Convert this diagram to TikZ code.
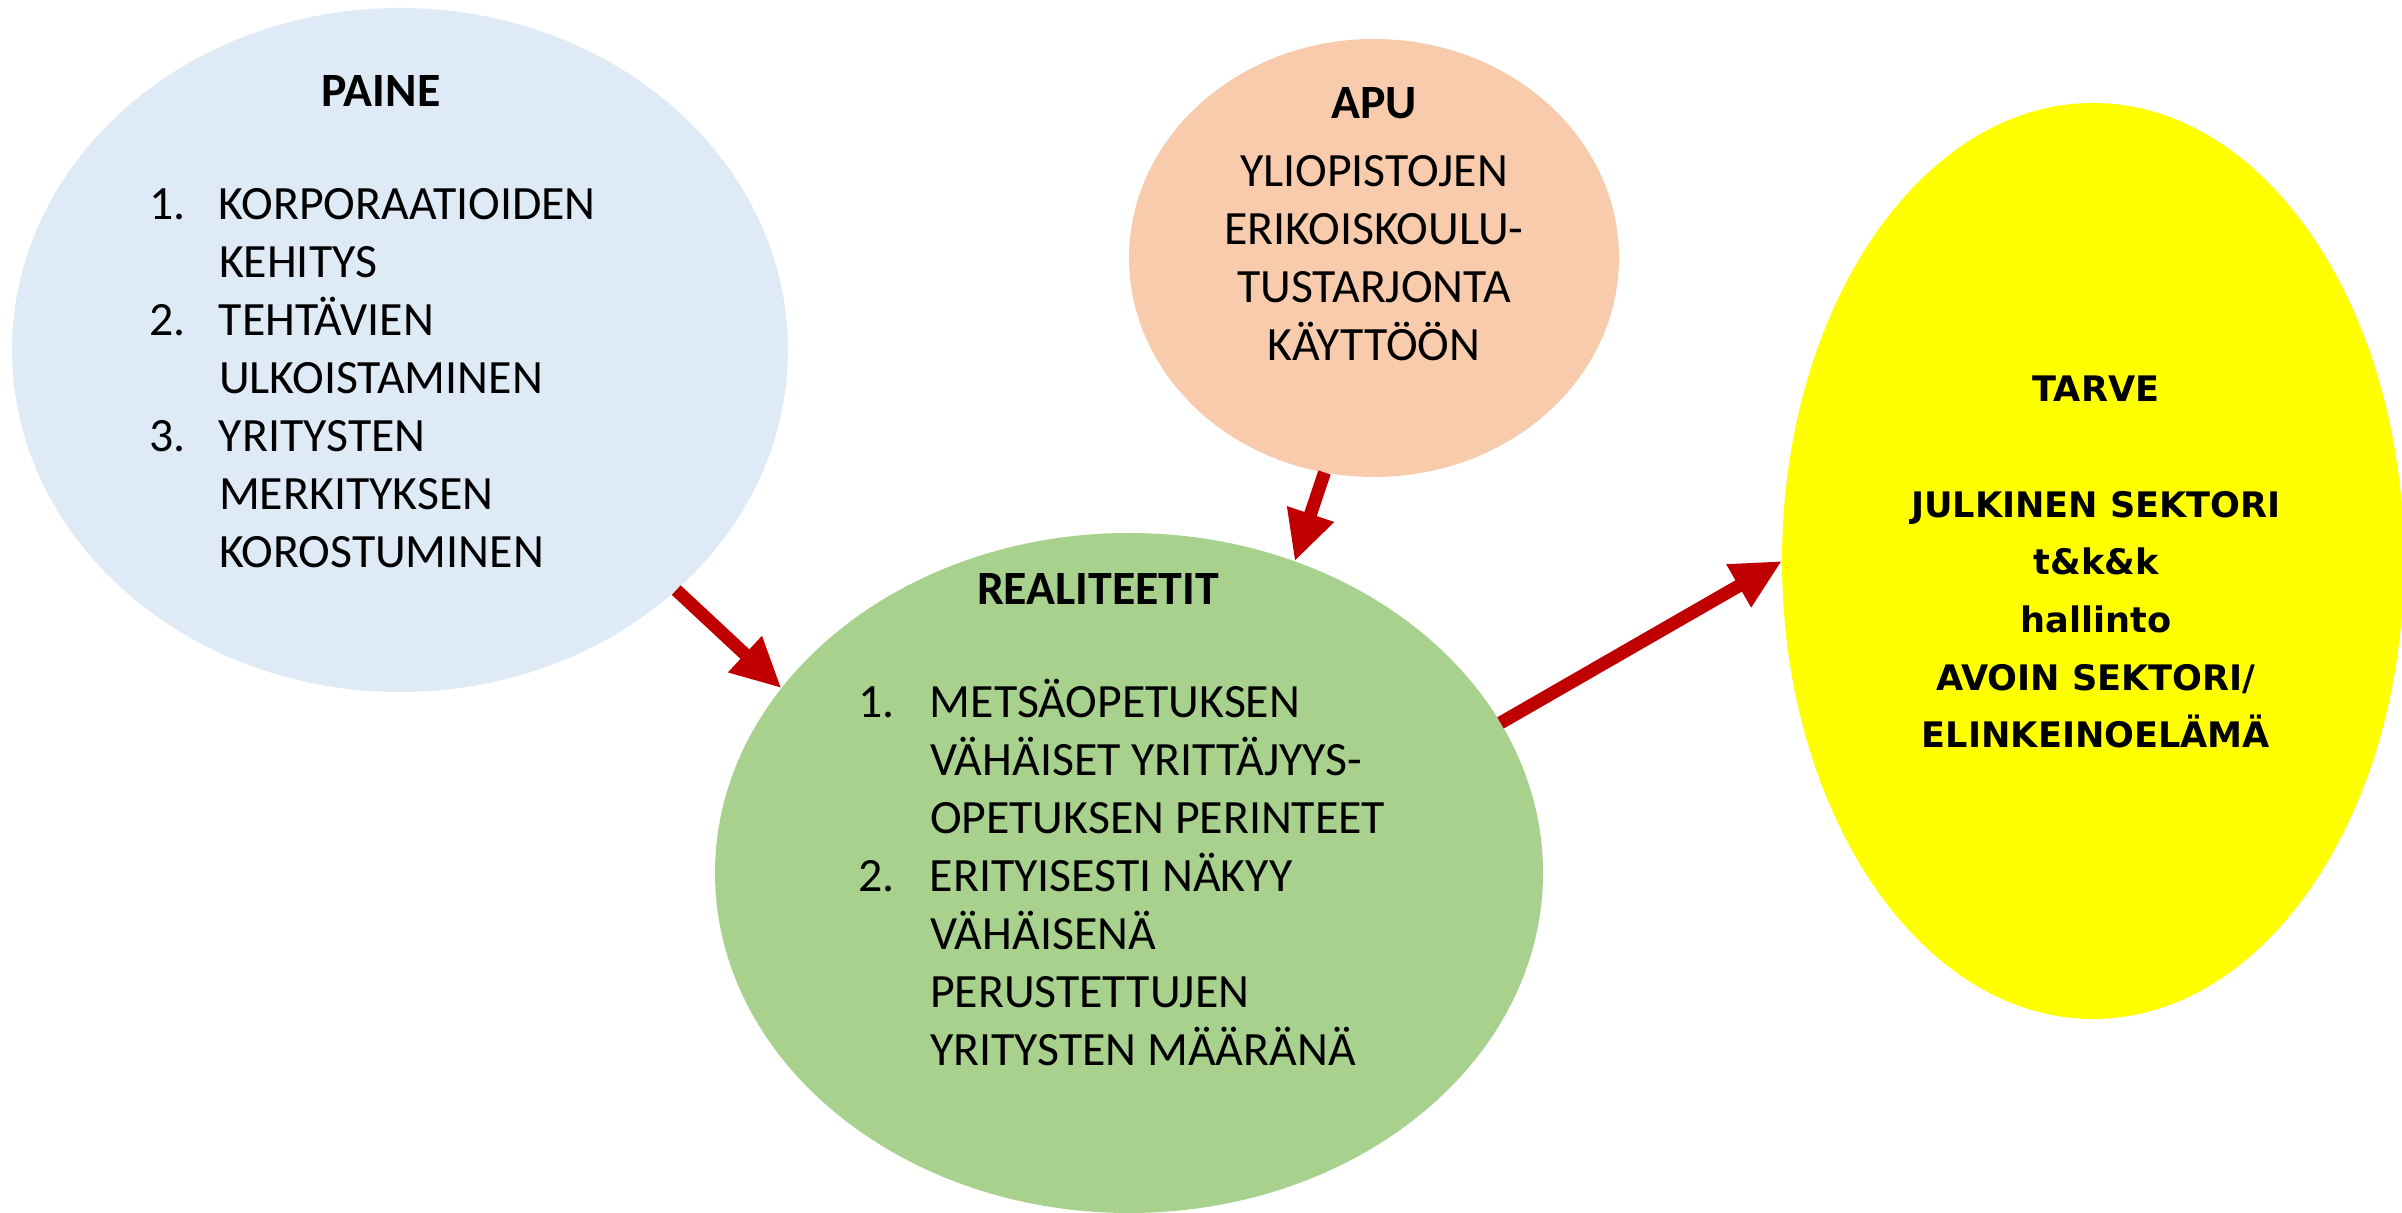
\documentclass[tikz,border=0pt]{standalone}
\usepackage{fontspec}
\setmainfont{Carlito}
\newfontfamily\tarvefont{DejaVu Sans}
\usetikzlibrary{shapes.geometric,arrows.meta}

\definecolor{painefill}{HTML}{DEEBF7}
\definecolor{apufill}{HTML}{F8CBAD}
\definecolor{realfill}{HTML}{A9D18E}
\definecolor{tarvefill}{HTML}{FFFF00}
\definecolor{flowred}{HTML}{C00000}

\begin{document}
\begin{tikzpicture}
      [every node/.style={inner sep=0pt,outer sep=0pt},
       blob/.style={ellipse,draw=none},
       body/.style={font=\fontsize{13.6}{16.5}\selectfont},
       head/.style={anchor=base,font=\bfseries\fontsize{13.6}{16.5}\selectfont},
       flow/.style={draw=flowred,line width=0.13cm,-{Triangle[length=0.5cm,width=0.46cm]}}]
      \useasboundingbox (0,0) rectangle (24.02,12.13);

      \node [blob,fill=painefill,minimum width=7.76cm,minimum height=6.84cm] (paine) at (4.00,8.63) {};
      \node [blob,fill=apufill,minimum width=4.90cm,minimum height=4.38cm] (apu) at (13.74,9.55) {};
      \node [blob,fill=realfill,minimum width=8.28cm,minimum height=6.80cm] (real) at (11.29,3.40) {};
      \node [blob,fill=tarvefill,minimum width=6.22cm,minimum height=9.16cm] (tarve) at (20.93,6.52) {};

      \node [head] (painehead) at (3.81,11.06) {PAINE};
      \node [body,anchor=base west] (painelist) at (1.49,9.93)
        {\begin{tabular}[t]{@{}p{0.70cm}@{}l@{}}
          1. & KORPORAATIOIDEN\\
             & KEHITYS\\
          2. & TEHTÄVIEN\\
             & ULKOISTAMINEN\\
          3. & YRITYSTEN\\
             & MERKITYKSEN\\
             & KOROSTUMINEN
        \end{tabular}};

      \node [head] (apuhead) at (13.74,10.94) {APU};
      \node [body,anchor=base] (aputext) at (13.74,10.26)
        {\begin{tabular}[t]{@{}c@{}}
          YLIOPISTOJEN\\
          ERIKOISKOULU-\\
          TUSTARJONTA\\
          KÄYTTÖÖN
        \end{tabular}};

      \node [head] (realhead) at (10.98,6.08) {REALITEETIT};
      \node [body,anchor=base west] (reallist) at (8.58,4.95)
        {\begin{tabular}[t]{@{}p{0.72cm}@{}l@{}}
          1. & METSÄOPETUKSEN\\
             & VÄHÄISET YRITTÄJYYS-\\
             & OPETUKSEN PERINTEET\\
          2. & ERITYISESTI NÄKYY\\
             & VÄHÄISENÄ\\
             & PERUSTETTUJEN\\
             & YRITYSTEN MÄÄRÄNÄ
        \end{tabular}};

      \node [anchor=base,font=\tarvefont\bfseries\fontsize{10}{16.4}\selectfont] (tarvetext) at (20.96,8.11)
        {\begin{tabular}[t]{@{}c@{}}
          TARVE\\
          \\
          JULKINEN SEKTORI\\
          t\&k\&k\\
          hallinto\\
          AVOIN SEKTORI/\\
          ELINKEINOELÄMÄ
        \end{tabular}};

      \foreach \from/\to in {paine.-41/real.152, apu.-103/real.62, real.22/tarve.180}
      \draw [flow] (\from) -- (\to);
    \end{tikzpicture}
\end{document}
